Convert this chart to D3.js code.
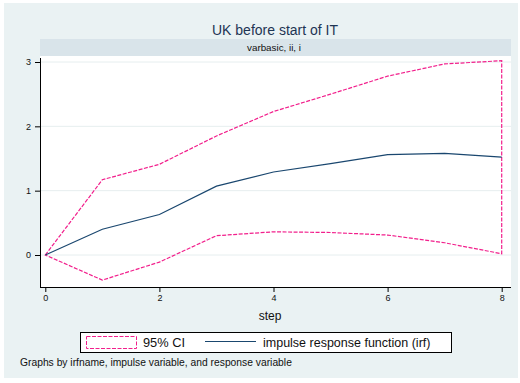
<!DOCTYPE html>
<html>
<head>
<meta charset="utf-8">
<script src="https://cdn.jsdelivr.net/npm/d3@7"></script>
<style>
  body { margin: 0; background: #fff; }
  text { font-family: "Liberation Sans", Arial, sans-serif; }
</style>
</head>
<body>
<div id="chart"></div>
<script>
// irf for UK before start of IT
var steps = [0, 1, 2, 3, 4, 5, 6, 7, 8];
var irf   = [0, 0.40, 0.63, 1.07, 1.29, 1.42, 1.56, 1.58, 1.52];
var ciUp  = [0, 1.17, 1.41, 1.85, 2.23, 2.50, 2.78, 2.97, 3.02];
var ciLo  = [0, -0.39, -0.11, 0.30, 0.36, 0.35, 0.31, 0.19, 0.02];
var yTicks = [0, 1, 2, 3];
var xTicks = [0, 2, 4, 6, 8];

var W = 520, H = 383;
var plot = {left: 40, right: 511, top: 56, bottom: 287};

var svg = d3.select("#chart").append("svg")
  .attr("width", W).attr("height", H);

// outer background
svg.append("rect").attr("x", 4).attr("y", 3).attr("width", 514).attr("height", 375)
  .attr("fill", "#eaf2f3");

// title + strip
svg.append("text").attr("x", 275).attr("y", 35).attr("text-anchor", "middle")
  .attr("font-size", 14).attr("fill", "#1e3553").text("UK before start of IT");
svg.append("rect").attr("x", plot.left).attr("y", 39)
  .attr("width", plot.right - plot.left).attr("height", 17).attr("fill", "#d9e4ea");
svg.append("text").attr("x", 274).attr("y", 51).attr("text-anchor", "middle")
  .attr("font-size", 9.8).attr("fill", "#111").text("varbasic, ii, i");

// plot region
svg.append("rect").attr("x", plot.left).attr("y", plot.top)
  .attr("width", plot.right - plot.left).attr("height", plot.bottom - plot.top)
  .attr("fill", "#fff");

var x = d3.scaleLinear().domain([0, 8]).range([45.3, 501.7]);
var y = d3.scaleLinear().domain([0, 3]).range([255, 62]);

// grid
svg.selectAll(".grid").data(yTicks).enter().append("line")
  .attr("class", "grid")
  .attr("x1", plot.left + 1).attr("x2", plot.right)
  .attr("y1", d => y(d)).attr("y2", d => y(d))
  .attr("stroke", "#e6eeef").attr("stroke-width", 1);

// axes
var yAxis = svg.append("g").attr("transform", "translate(" + plot.left + ",0)")
  .call(d3.axisLeft(y).tickValues(yTicks).tickSize(5).tickPadding(4).tickFormat(d3.format("d")));
yAxis.select(".domain").attr("d", "M0.5," + (plot.top + 2) + "V" + plot.bottom);
var xAxis = svg.append("g").attr("transform", "translate(0," + plot.bottom + ")")
  .call(d3.axisBottom(x).tickValues(xTicks).tickSize(5).tickPadding(3).tickFormat(d3.format("d")));
xAxis.select(".domain").attr("d", "M" + plot.left + ",0.5H" + plot.right);
[yAxis, xAxis].forEach(function(a) {
  a.selectAll("text").attr("font-size", 9).attr("fill", "#111")
    .style("font-family", "Liberation Sans, Arial, sans-serif");
  a.selectAll("line, path").attr("stroke", "#000");
});

// CI outline (closed polygon)
var ciPts = steps.map((s, i) => [x(s), y(ciUp[i])])
  .concat(steps.slice().reverse().map(s => [x(s), y(ciLo[s])]));
svg.append("path")
  .attr("d", d3.line()(ciPts) + "Z")
  .attr("fill", "none").attr("stroke", "#f21f8c").attr("stroke-width", 1.2)
  .attr("stroke-dasharray", "4,1.5");

// irf line
svg.append("path")
  .attr("d", d3.line().x((d, i) => x(steps[i])).y(d => y(d))(irf))
  .attr("fill", "none").attr("stroke", "#1a476f").attr("stroke-width", 1.2);

// x title
svg.append("text").attr("x", 270).attr("y", 320).attr("text-anchor", "middle")
  .attr("font-size", 12).attr("fill", "#111").text("step");

// legend
var lg = svg.append("g");
lg.append("rect").attr("x", 80.5).attr("y", 332.5).attr("width", 371).attr("height", 20)
  .attr("fill", "#fff").attr("stroke", "#000");
lg.append("rect").attr("x", 86.5).attr("y", 336.5).attr("width", 50).attr("height", 12)
  .attr("fill", "#fff").attr("stroke", "#f21f8c").attr("stroke-dasharray", "4,1.5");
lg.append("text").attr("x", 143).attr("y", 347).attr("font-size", 12.8).attr("fill", "#111")
  .text("95% CI");
lg.append("line").attr("x1", 205).attr("x2", 256).attr("y1", 341.5).attr("y2", 341.5)
  .attr("stroke", "#1a476f").attr("stroke-width", 1.2);
lg.append("text").attr("x", 263).attr("y", 347).attr("font-size", 12.5).attr("fill", "#111")
  .text("impulse response function (irf)");

// note
svg.append("text").attr("x", 20).attr("y", 366).attr("font-size", 10.3).attr("fill", "#111")
  .text("Graphs by irfname, impulse variable, and response variable");
</script>
</body>
</html>
